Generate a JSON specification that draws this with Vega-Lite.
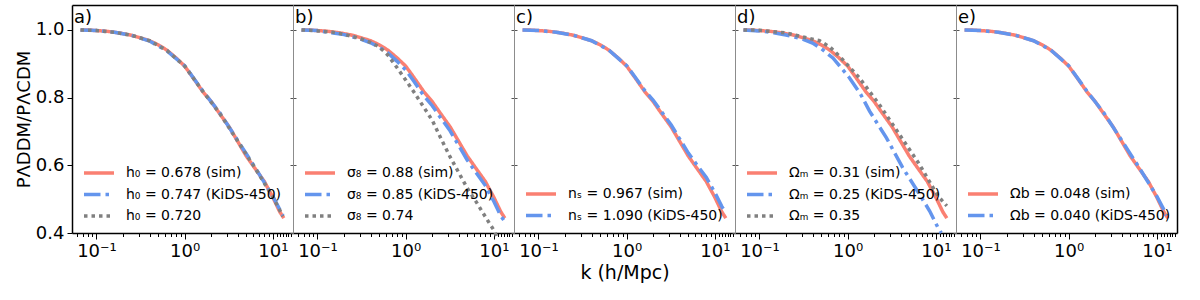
{
  "$schema": "https://vega.github.io/schema/vega-lite/v6.json",
  "background": "white",
  "padding": {"left": 15, "top": 5, "right": 5, "bottom": 5},
  "config": {
    "font": "DejaVu Sans",
    "view": {"stroke": null},
    "axis": {"grid": false, "labelColor": "black", "titleColor": "black", "tickColor": "black", "domainColor": "black", "labelFont": "DejaVu Sans", "titleFont": "DejaVu Sans", "titleFontWeight": "normal"},
    "legend": {"labelFont": "DejaVu Sans", "labelFontSize": 14, "labelColor": "black"},
    "title": {"font": "DejaVu Sans", "fontWeight": "normal", "fontSize": 18, "anchor": "start", "frame": "group", "offset": -22, "dx": 2, "color": "black"},
    "line": {"strokeWidth": 3.5, "clip": true}
  },
  "spacing": 0,
  "bounds": "flush",
  "resolve": {"scale": {"color": "independent", "strokeDash": "independent"}},
  "hconcat": [
    {
      "width": 221, "height": 228,
      "title": {"text": "a)"},
      "data": {"values": [
        {"s": "h₀ = 0.678 (sim)", "k": 0.066, "r": 1.0}, {"s": "h₀ = 0.678 (sim)", "k": 0.08, "r": 0.9995}, {"s": "h₀ = 0.678 (sim)", "k": 0.1, "r": 0.998}, {"s": "h₀ = 0.678 (sim)", "k": 0.13, "r": 0.996}, {"s": "h₀ = 0.678 (sim)", "k": 0.16, "r": 0.993}, {"s": "h₀ = 0.678 (sim)", "k": 0.2, "r": 0.989}, {"s": "h₀ = 0.678 (sim)", "k": 0.25, "r": 0.984}, {"s": "h₀ = 0.678 (sim)", "k": 0.3, "r": 0.978}, {"s": "h₀ = 0.678 (sim)", "k": 0.4, "r": 0.968}, {"s": "h₀ = 0.678 (sim)", "k": 0.5, "r": 0.956}, {"s": "h₀ = 0.678 (sim)", "k": 0.63, "r": 0.94}, {"s": "h₀ = 0.678 (sim)", "k": 0.8, "r": 0.917}, {"s": "h₀ = 0.678 (sim)", "k": 1.0, "r": 0.893}, {"s": "h₀ = 0.678 (sim)", "k": 1.25, "r": 0.858}, {"s": "h₀ = 0.678 (sim)", "k": 1.6, "r": 0.818}, {"s": "h₀ = 0.678 (sim)", "k": 2.0, "r": 0.788}, {"s": "h₀ = 0.678 (sim)", "k": 2.5, "r": 0.752}, {"s": "h₀ = 0.678 (sim)", "k": 3.2, "r": 0.713}, {"s": "h₀ = 0.678 (sim)", "k": 4.0, "r": 0.67}, {"s": "h₀ = 0.678 (sim)", "k": 5.0, "r": 0.627}, {"s": "h₀ = 0.678 (sim)", "k": 6.3, "r": 0.59}, {"s": "h₀ = 0.678 (sim)", "k": 8.0, "r": 0.552}, {"s": "h₀ = 0.678 (sim)", "k": 10.0, "r": 0.505}, {"s": "h₀ = 0.678 (sim)", "k": 12.0, "r": 0.462}, {"s": "h₀ = 0.678 (sim)", "k": 13.3, "r": 0.444},
        {"s": "h₀ = 0.747 (KiDS-450)", "k": 0.066, "r": 1.0}, {"s": "h₀ = 0.747 (KiDS-450)", "k": 0.1, "r": 0.998}, {"s": "h₀ = 0.747 (KiDS-450)", "k": 0.16, "r": 0.993}, {"s": "h₀ = 0.747 (KiDS-450)", "k": 0.25, "r": 0.984}, {"s": "h₀ = 0.747 (KiDS-450)", "k": 0.4, "r": 0.967}, {"s": "h₀ = 0.747 (KiDS-450)", "k": 0.63, "r": 0.938}, {"s": "h₀ = 0.747 (KiDS-450)", "k": 1.0, "r": 0.894}, {"s": "h₀ = 0.747 (KiDS-450)", "k": 1.6, "r": 0.82}, {"s": "h₀ = 0.747 (KiDS-450)", "k": 2.5, "r": 0.755}, {"s": "h₀ = 0.747 (KiDS-450)", "k": 4.0, "r": 0.673}, {"s": "h₀ = 0.747 (KiDS-450)", "k": 6.3, "r": 0.593}, {"s": "h₀ = 0.747 (KiDS-450)", "k": 10.0, "r": 0.508}, {"s": "h₀ = 0.747 (KiDS-450)", "k": 13.0, "r": 0.452},
        {"s": "h₀ = 0.720", "k": 0.066, "r": 1.0}, {"s": "h₀ = 0.720", "k": 0.1, "r": 0.998}, {"s": "h₀ = 0.720", "k": 0.16, "r": 0.993}, {"s": "h₀ = 0.720", "k": 0.25, "r": 0.984}, {"s": "h₀ = 0.720", "k": 0.4, "r": 0.968}, {"s": "h₀ = 0.720", "k": 0.63, "r": 0.939}, {"s": "h₀ = 0.720", "k": 1.0, "r": 0.893}, {"s": "h₀ = 0.720", "k": 1.6, "r": 0.819}, {"s": "h₀ = 0.720", "k": 2.5, "r": 0.753}, {"s": "h₀ = 0.720", "k": 4.0, "r": 0.671}, {"s": "h₀ = 0.720", "k": 6.3, "r": 0.591}, {"s": "h₀ = 0.720", "k": 10.0, "r": 0.506}, {"s": "h₀ = 0.720", "k": 13.0, "r": 0.449}
      ]},
      "layer": [
        {
          "mark": {"type": "line"},
          "encoding": {
            "x": {"field": "k", "type": "quantitative", "scale": {"type": "log", "domain": [0.0528, 16.9], "nice": false},
              "axis": {"orient": "bottom", "values": [0.06,0.07,0.08,0.09,0.1,0.2,0.3,0.4,0.5,0.6,0.7,0.8,0.9,1,2,3,4,5,6,7,8,9,10,11,12,13,14,15,16], "labelExpr": "datum.value == 0.1 ? '10⁻¹' : datum.value == 1 ? '10⁰' : datum.value == 10 ? '10¹' : ''", "tickSize": {"condition": {"test": "datum.value == 0.1 || datum.value == 1 || datum.value == 10", "value": 6}, "value": 3.5}, "labelOverlap": false, "labelBound": false, "labelFlush": false, "labelFontSize": 18, "labelPadding": 3, "domainWidth": 1.5, "title": null}},
            "y": {"field": "r", "type": "quantitative", "scale": {"domain": [0.4, 1.0735], "nice": false, "zero": false},
              "axis": {"values": [0.4,0.6,0.8,1.0], "format": ".1f", "tickSize": 5, "labelFontSize": 18, "labelPadding": 3, "domainWidth": 1.5, "title": "PΛDDM/PΛCDM", "titleFontSize": 18, "titlePadding": 2}},
            "color": {"field": "s", "type": "nominal", "scale": {"domain": ["h₀ = 0.678 (sim)", "h₀ = 0.747 (KiDS-450)", "h₀ = 0.720"], "range": ["#FA8072", "#6495ED", "#808080"]},
              "legend": {"title": null, "orient": "bottom-left", "offset": 10, "padding": 0, "symbolType": "M-1,0H2.75", "symbolSize": 256, "symbolStrokeWidth": 3.5, "labelOffset": 24, "rowPadding": 4.5, "labelLimit": 400}},
            "strokeDash": {"field": "s", "type": "nominal", "scale": {"domain": ["h₀ = 0.678 (sim)", "h₀ = 0.747 (KiDS-450)", "h₀ = 0.720"], "range": [[1,0],[16.5,5,3.5,5],[3.5,4]]},
              "legend": {"title": null, "orient": "bottom-left", "offset": 10, "padding": 0, "symbolType": "M-1,0H2.75", "symbolSize": 256, "symbolStrokeWidth": 3.5, "labelOffset": 24, "rowPadding": 4.5, "labelLimit": 400}}
          }
        },
        {
          "mark": {"type": "line", "opacity": 0},
          "encoding": {
            "x": {"field": "k", "type": "quantitative", "scale": {"type": "log", "domain": [0.0528, 16.9], "nice": false}, "axis": {"orient": "top", "ticks": false, "labels": false, "domainWidth": 1.5, "title": null}},
            "y": {"field": "r", "type": "quantitative", "scale": {"domain": [0.4, 1.0735], "nice": false, "zero": false}, "axis": {"orient": "right", "values": [0.4,0.6,0.8,1.0], "labels": false, "tickSize": 3, "tickColor": "#555555", "domainColor": "#8c8c8c", "title": null}}
          }
        }
      ],
      "resolve": {"axis": {"x": "independent", "y": "independent"}}
    },
    {
      "width": 221, "height": 228,
      "title": {"text": "b)"},
      "data": {"values": [
        {"s": "σ₈ = 0.88 (sim)", "k": 0.066, "r": 1.0}, {"s": "σ₈ = 0.88 (sim)", "k": 0.08, "r": 0.9995}, {"s": "σ₈ = 0.88 (sim)", "k": 0.1, "r": 0.998}, {"s": "σ₈ = 0.88 (sim)", "k": 0.13, "r": 0.996}, {"s": "σ₈ = 0.88 (sim)", "k": 0.16, "r": 0.993}, {"s": "σ₈ = 0.88 (sim)", "k": 0.2, "r": 0.989}, {"s": "σ₈ = 0.88 (sim)", "k": 0.25, "r": 0.984}, {"s": "σ₈ = 0.88 (sim)", "k": 0.3, "r": 0.978}, {"s": "σ₈ = 0.88 (sim)", "k": 0.4, "r": 0.968}, {"s": "σ₈ = 0.88 (sim)", "k": 0.5, "r": 0.956}, {"s": "σ₈ = 0.88 (sim)", "k": 0.63, "r": 0.94}, {"s": "σ₈ = 0.88 (sim)", "k": 0.8, "r": 0.917}, {"s": "σ₈ = 0.88 (sim)", "k": 1.0, "r": 0.893}, {"s": "σ₈ = 0.88 (sim)", "k": 1.25, "r": 0.858}, {"s": "σ₈ = 0.88 (sim)", "k": 1.6, "r": 0.818}, {"s": "σ₈ = 0.88 (sim)", "k": 2.0, "r": 0.788}, {"s": "σ₈ = 0.88 (sim)", "k": 2.5, "r": 0.752}, {"s": "σ₈ = 0.88 (sim)", "k": 3.2, "r": 0.713}, {"s": "σ₈ = 0.88 (sim)", "k": 4.0, "r": 0.67}, {"s": "σ₈ = 0.88 (sim)", "k": 5.0, "r": 0.627}, {"s": "σ₈ = 0.88 (sim)", "k": 6.3, "r": 0.59}, {"s": "σ₈ = 0.88 (sim)", "k": 8.0, "r": 0.552}, {"s": "σ₈ = 0.88 (sim)", "k": 10.0, "r": 0.505}, {"s": "σ₈ = 0.88 (sim)", "k": 12.0, "r": 0.462}, {"s": "σ₈ = 0.88 (sim)", "k": 13.3, "r": 0.444},
        {"s": "σ₈ = 0.85 (KiDS-450)", "k": 0.066, "r": 1.0}, {"s": "σ₈ = 0.85 (KiDS-450)", "k": 0.1, "r": 0.998}, {"s": "σ₈ = 0.85 (KiDS-450)", "k": 0.2, "r": 0.986}, {"s": "σ₈ = 0.85 (KiDS-450)", "k": 0.3, "r": 0.974}, {"s": "σ₈ = 0.85 (KiDS-450)", "k": 0.4, "r": 0.962}, {"s": "σ₈ = 0.85 (KiDS-450)", "k": 0.5, "r": 0.949}, {"s": "σ₈ = 0.85 (KiDS-450)", "k": 0.63, "r": 0.932}, {"s": "σ₈ = 0.85 (KiDS-450)", "k": 0.8, "r": 0.907}, {"s": "σ₈ = 0.85 (KiDS-450)", "k": 1.0, "r": 0.882}, {"s": "σ₈ = 0.85 (KiDS-450)", "k": 1.25, "r": 0.847}, {"s": "σ₈ = 0.85 (KiDS-450)", "k": 1.6, "r": 0.806}, {"s": "σ₈ = 0.85 (KiDS-450)", "k": 2.0, "r": 0.776}, {"s": "σ₈ = 0.85 (KiDS-450)", "k": 2.5, "r": 0.74}, {"s": "σ₈ = 0.85 (KiDS-450)", "k": 3.2, "r": 0.701}, {"s": "σ₈ = 0.85 (KiDS-450)", "k": 4.0, "r": 0.658}, {"s": "σ₈ = 0.85 (KiDS-450)", "k": 5.0, "r": 0.615}, {"s": "σ₈ = 0.85 (KiDS-450)", "k": 6.3, "r": 0.578}, {"s": "σ₈ = 0.85 (KiDS-450)", "k": 8.0, "r": 0.54}, {"s": "σ₈ = 0.85 (KiDS-450)", "k": 10.0, "r": 0.493}, {"s": "σ₈ = 0.85 (KiDS-450)", "k": 12.0, "r": 0.45}, {"s": "σ₈ = 0.85 (KiDS-450)", "k": 13.3, "r": 0.434},
        {"s": "σ₈ = 0.74", "k": 0.066, "r": 1.0}, {"s": "σ₈ = 0.74", "k": 0.1, "r": 0.997}, {"s": "σ₈ = 0.74", "k": 0.15, "r": 0.993}, {"s": "σ₈ = 0.74", "k": 0.2, "r": 0.987}, {"s": "σ₈ = 0.74", "k": 0.3, "r": 0.975}, {"s": "σ₈ = 0.74", "k": 0.4, "r": 0.963}, {"s": "σ₈ = 0.74", "k": 0.5, "r": 0.95}, {"s": "σ₈ = 0.74", "k": 0.63, "r": 0.925}, {"s": "σ₈ = 0.74", "k": 0.8, "r": 0.888}, {"s": "σ₈ = 0.74", "k": 1.0, "r": 0.852}, {"s": "σ₈ = 0.74", "k": 1.25, "r": 0.815}, {"s": "σ₈ = 0.74", "k": 1.6, "r": 0.772}, {"s": "σ₈ = 0.74", "k": 2.0, "r": 0.733}, {"s": "σ₈ = 0.74", "k": 2.5, "r": 0.68}, {"s": "σ₈ = 0.74", "k": 3.2, "r": 0.624}, {"s": "σ₈ = 0.74", "k": 4.0, "r": 0.578}, {"s": "σ₈ = 0.74", "k": 5.0, "r": 0.532}, {"s": "σ₈ = 0.74", "k": 6.3, "r": 0.492}, {"s": "σ₈ = 0.74", "k": 8.0, "r": 0.448}, {"s": "σ₈ = 0.74", "k": 10.0, "r": 0.408}, {"s": "σ₈ = 0.74", "k": 11.0, "r": 0.385}
      ]},
      "layer": [
        {
          "mark": {"type": "line"},
          "encoding": {
            "x": {"field": "k", "type": "quantitative", "scale": {"type": "log", "domain": [0.0528, 16.9], "nice": false},
              "axis": {"orient": "bottom", "values": [0.06,0.07,0.08,0.09,0.1,0.2,0.3,0.4,0.5,0.6,0.7,0.8,0.9,1,2,3,4,5,6,7,8,9,10,11,12,13,14,15,16], "labelExpr": "datum.value == 0.1 ? '10⁻¹' : datum.value == 1 ? '10⁰' : datum.value == 10 ? '10¹' : ''", "tickSize": {"condition": {"test": "datum.value == 0.1 || datum.value == 1 || datum.value == 10", "value": 6}, "value": 3.5}, "labelOverlap": false, "labelBound": false, "labelFlush": false, "labelFontSize": 18, "labelPadding": 3, "domainWidth": 1.5, "title": null}},
            "y": {"field": "r", "type": "quantitative", "scale": {"domain": [0.4, 1.0735], "nice": false, "zero": false},
              "axis": {"values": [0.4,0.6,0.8,1.0], "labels": false, "tickSize": 3, "tickColor": "#555555", "domainColor": "#8c8c8c", "title": null}},
            "color": {"field": "s", "type": "nominal", "scale": {"domain": ["σ₈ = 0.88 (sim)", "σ₈ = 0.85 (KiDS-450)", "σ₈ = 0.74"], "range": ["#FA8072", "#6495ED", "#808080"]},
              "legend": {"title": null, "orient": "bottom-left", "offset": 10, "padding": 0, "symbolType": "M-1,0H2.75", "symbolSize": 256, "symbolStrokeWidth": 3.5, "labelOffset": 24, "rowPadding": 4.5, "labelLimit": 400}},
            "strokeDash": {"field": "s", "type": "nominal", "scale": {"domain": ["σ₈ = 0.88 (sim)", "σ₈ = 0.85 (KiDS-450)", "σ₈ = 0.74"], "range": [[1,0],[16.5,5,3.5,5],[3.5,4]]},
              "legend": {"title": null, "orient": "bottom-left", "offset": 10, "padding": 0, "symbolType": "M-1,0H2.75", "symbolSize": 256, "symbolStrokeWidth": 3.5, "labelOffset": 24, "rowPadding": 4.5, "labelLimit": 400}}
          }
        },
        {
          "mark": {"type": "line", "opacity": 0},
          "encoding": {
            "x": {"field": "k", "type": "quantitative", "scale": {"type": "log", "domain": [0.0528, 16.9], "nice": false}, "axis": {"orient": "top", "ticks": false, "labels": false, "domainWidth": 1.5, "title": null}},
            "y": {"field": "r", "type": "quantitative", "scale": {"domain": [0.4, 1.0735], "nice": false, "zero": false}, "axis": {"orient": "right", "values": [0.4,0.6,0.8,1.0], "labels": false, "tickSize": 3, "tickColor": "#555555", "domainColor": "#8c8c8c", "title": null}}
          }
        }
      ],
      "resolve": {"axis": {"x": "independent", "y": "independent"}}
    },
    {
      "width": 221, "height": 228,
      "title": {"text": "c)"},
      "data": {"values": [
        {"s": "nₛ = 0.967 (sim)", "k": 0.066, "r": 1.0}, {"s": "nₛ = 0.967 (sim)", "k": 0.08, "r": 0.9995}, {"s": "nₛ = 0.967 (sim)", "k": 0.1, "r": 0.998}, {"s": "nₛ = 0.967 (sim)", "k": 0.13, "r": 0.996}, {"s": "nₛ = 0.967 (sim)", "k": 0.16, "r": 0.993}, {"s": "nₛ = 0.967 (sim)", "k": 0.2, "r": 0.989}, {"s": "nₛ = 0.967 (sim)", "k": 0.25, "r": 0.984}, {"s": "nₛ = 0.967 (sim)", "k": 0.3, "r": 0.978}, {"s": "nₛ = 0.967 (sim)", "k": 0.4, "r": 0.968}, {"s": "nₛ = 0.967 (sim)", "k": 0.5, "r": 0.956}, {"s": "nₛ = 0.967 (sim)", "k": 0.63, "r": 0.94}, {"s": "nₛ = 0.967 (sim)", "k": 0.8, "r": 0.917}, {"s": "nₛ = 0.967 (sim)", "k": 1.0, "r": 0.893}, {"s": "nₛ = 0.967 (sim)", "k": 1.25, "r": 0.858}, {"s": "nₛ = 0.967 (sim)", "k": 1.6, "r": 0.818}, {"s": "nₛ = 0.967 (sim)", "k": 2.0, "r": 0.788}, {"s": "nₛ = 0.967 (sim)", "k": 2.5, "r": 0.752}, {"s": "nₛ = 0.967 (sim)", "k": 3.2, "r": 0.713}, {"s": "nₛ = 0.967 (sim)", "k": 4.0, "r": 0.67}, {"s": "nₛ = 0.967 (sim)", "k": 5.0, "r": 0.627}, {"s": "nₛ = 0.967 (sim)", "k": 6.3, "r": 0.59}, {"s": "nₛ = 0.967 (sim)", "k": 8.0, "r": 0.552}, {"s": "nₛ = 0.967 (sim)", "k": 10.0, "r": 0.505}, {"s": "nₛ = 0.967 (sim)", "k": 12.0, "r": 0.462}, {"s": "nₛ = 0.967 (sim)", "k": 13.3, "r": 0.444},
        {"s": "nₛ = 1.090 (KiDS-450)", "k": 0.066, "r": 1.0}, {"s": "nₛ = 1.090 (KiDS-450)", "k": 0.1, "r": 0.998}, {"s": "nₛ = 1.090 (KiDS-450)", "k": 0.16, "r": 0.993}, {"s": "nₛ = 1.090 (KiDS-450)", "k": 0.25, "r": 0.984}, {"s": "nₛ = 1.090 (KiDS-450)", "k": 0.4, "r": 0.968}, {"s": "nₛ = 1.090 (KiDS-450)", "k": 0.63, "r": 0.94}, {"s": "nₛ = 1.090 (KiDS-450)", "k": 1.0, "r": 0.894}, {"s": "nₛ = 1.090 (KiDS-450)", "k": 1.25, "r": 0.86}, {"s": "nₛ = 1.090 (KiDS-450)", "k": 1.6, "r": 0.821}, {"s": "nₛ = 1.090 (KiDS-450)", "k": 2.0, "r": 0.792}, {"s": "nₛ = 1.090 (KiDS-450)", "k": 2.5, "r": 0.757}, {"s": "nₛ = 1.090 (KiDS-450)", "k": 3.2, "r": 0.719}, {"s": "nₛ = 1.090 (KiDS-450)", "k": 4.0, "r": 0.677}, {"s": "nₛ = 1.090 (KiDS-450)", "k": 5.0, "r": 0.636}, {"s": "nₛ = 1.090 (KiDS-450)", "k": 6.3, "r": 0.6}, {"s": "nₛ = 1.090 (KiDS-450)", "k": 8.0, "r": 0.564}, {"s": "nₛ = 1.090 (KiDS-450)", "k": 10.0, "r": 0.519}, {"s": "nₛ = 1.090 (KiDS-450)", "k": 12.0, "r": 0.478}, {"s": "nₛ = 1.090 (KiDS-450)", "k": 13.0, "r": 0.463}
      ]},
      "layer": [
        {
          "mark": {"type": "line"},
          "encoding": {
            "x": {"field": "k", "type": "quantitative", "scale": {"type": "log", "domain": [0.0528, 16.9], "nice": false},
              "axis": {"orient": "bottom", "values": [0.06,0.07,0.08,0.09,0.1,0.2,0.3,0.4,0.5,0.6,0.7,0.8,0.9,1,2,3,4,5,6,7,8,9,10,11,12,13,14,15,16], "labelExpr": "datum.value == 0.1 ? '10⁻¹' : datum.value == 1 ? '10⁰' : datum.value == 10 ? '10¹' : ''", "tickSize": {"condition": {"test": "datum.value == 0.1 || datum.value == 1 || datum.value == 10", "value": 6}, "value": 3.5}, "labelOverlap": false, "labelBound": false, "labelFlush": false, "labelFontSize": 18, "labelPadding": 3, "domainWidth": 1.5, "title": "k (h/Mpc)", "titleFontSize": 19, "titlePadding": 3}},
            "y": {"field": "r", "type": "quantitative", "scale": {"domain": [0.4, 1.0735], "nice": false, "zero": false},
              "axis": {"values": [0.4,0.6,0.8,1.0], "labels": false, "tickSize": 3, "tickColor": "#555555", "domainColor": "#8c8c8c", "title": null}},
            "color": {"field": "s", "type": "nominal", "scale": {"domain": ["nₛ = 0.967 (sim)", "nₛ = 1.090 (KiDS-450)"], "range": ["#FA8072", "#6495ED"]},
              "legend": {"title": null, "orient": "bottom-left", "offset": 10, "padding": 0, "symbolType": "M-1,0H2.75", "symbolSize": 256, "symbolStrokeWidth": 3.5, "labelOffset": 24, "rowPadding": 4.5, "labelLimit": 400}},
            "strokeDash": {"field": "s", "type": "nominal", "scale": {"domain": ["nₛ = 0.967 (sim)", "nₛ = 1.090 (KiDS-450)"], "range": [[1,0],[16.5,5,3.5,5]]},
              "legend": {"title": null, "orient": "bottom-left", "offset": 10, "padding": 0, "symbolType": "M-1,0H2.75", "symbolSize": 256, "symbolStrokeWidth": 3.5, "labelOffset": 24, "rowPadding": 4.5, "labelLimit": 400}}
          }
        },
        {
          "mark": {"type": "line", "opacity": 0},
          "encoding": {
            "x": {"field": "k", "type": "quantitative", "scale": {"type": "log", "domain": [0.0528, 16.9], "nice": false}, "axis": {"orient": "top", "ticks": false, "labels": false, "domainWidth": 1.5, "title": null}},
            "y": {"field": "r", "type": "quantitative", "scale": {"domain": [0.4, 1.0735], "nice": false, "zero": false}, "axis": {"orient": "right", "values": [0.4,0.6,0.8,1.0], "labels": false, "tickSize": 3, "tickColor": "#555555", "domainColor": "#8c8c8c", "title": null}}
          }
        }
      ],
      "resolve": {"axis": {"x": "independent", "y": "independent"}}
    },
    {
      "width": 221, "height": 228,
      "title": {"text": "d)"},
      "data": {"values": [
        {"s": "Ωₘ = 0.31 (sim)", "k": 0.066, "r": 1.0}, {"s": "Ωₘ = 0.31 (sim)", "k": 0.08, "r": 0.9995}, {"s": "Ωₘ = 0.31 (sim)", "k": 0.1, "r": 0.998}, {"s": "Ωₘ = 0.31 (sim)", "k": 0.13, "r": 0.996}, {"s": "Ωₘ = 0.31 (sim)", "k": 0.16, "r": 0.993}, {"s": "Ωₘ = 0.31 (sim)", "k": 0.2, "r": 0.989}, {"s": "Ωₘ = 0.31 (sim)", "k": 0.25, "r": 0.984}, {"s": "Ωₘ = 0.31 (sim)", "k": 0.3, "r": 0.978}, {"s": "Ωₘ = 0.31 (sim)", "k": 0.4, "r": 0.968}, {"s": "Ωₘ = 0.31 (sim)", "k": 0.5, "r": 0.956}, {"s": "Ωₘ = 0.31 (sim)", "k": 0.63, "r": 0.94}, {"s": "Ωₘ = 0.31 (sim)", "k": 0.8, "r": 0.917}, {"s": "Ωₘ = 0.31 (sim)", "k": 1.0, "r": 0.893}, {"s": "Ωₘ = 0.31 (sim)", "k": 1.25, "r": 0.858}, {"s": "Ωₘ = 0.31 (sim)", "k": 1.6, "r": 0.818}, {"s": "Ωₘ = 0.31 (sim)", "k": 2.0, "r": 0.788}, {"s": "Ωₘ = 0.31 (sim)", "k": 2.5, "r": 0.752}, {"s": "Ωₘ = 0.31 (sim)", "k": 3.2, "r": 0.713}, {"s": "Ωₘ = 0.31 (sim)", "k": 4.0, "r": 0.67}, {"s": "Ωₘ = 0.31 (sim)", "k": 5.0, "r": 0.627}, {"s": "Ωₘ = 0.31 (sim)", "k": 6.3, "r": 0.59}, {"s": "Ωₘ = 0.31 (sim)", "k": 8.0, "r": 0.552}, {"s": "Ωₘ = 0.31 (sim)", "k": 10.0, "r": 0.505}, {"s": "Ωₘ = 0.31 (sim)", "k": 12.0, "r": 0.462}, {"s": "Ωₘ = 0.31 (sim)", "k": 13.3, "r": 0.444},
        {"s": "Ωₘ = 0.25 (KiDS-450)", "k": 0.066, "r": 1.0}, {"s": "Ωₘ = 0.25 (KiDS-450)", "k": 0.1, "r": 0.997}, {"s": "Ωₘ = 0.25 (KiDS-450)", "k": 0.15, "r": 0.991}, {"s": "Ωₘ = 0.25 (KiDS-450)", "k": 0.2, "r": 0.985}, {"s": "Ωₘ = 0.25 (KiDS-450)", "k": 0.3, "r": 0.974}, {"s": "Ωₘ = 0.25 (KiDS-450)", "k": 0.4, "r": 0.961}, {"s": "Ωₘ = 0.25 (KiDS-450)", "k": 0.5, "r": 0.945}, {"s": "Ωₘ = 0.25 (KiDS-450)", "k": 0.68, "r": 0.917}, {"s": "Ωₘ = 0.25 (KiDS-450)", "k": 0.8, "r": 0.895}, {"s": "Ωₘ = 0.25 (KiDS-450)", "k": 1.05, "r": 0.858}, {"s": "Ωₘ = 0.25 (KiDS-450)", "k": 1.4, "r": 0.81}, {"s": "Ωₘ = 0.25 (KiDS-450)", "k": 1.77, "r": 0.76}, {"s": "Ωₘ = 0.25 (KiDS-450)", "k": 2.75, "r": 0.681}, {"s": "Ωₘ = 0.25 (KiDS-450)", "k": 4.2, "r": 0.593}, {"s": "Ωₘ = 0.25 (KiDS-450)", "k": 6.5, "r": 0.515}, {"s": "Ωₘ = 0.25 (KiDS-450)", "k": 8.5, "r": 0.465}, {"s": "Ωₘ = 0.25 (KiDS-450)", "k": 10.5, "r": 0.417}, {"s": "Ωₘ = 0.25 (KiDS-450)", "k": 11.5, "r": 0.4},
        {"s": "Ωₘ = 0.35", "k": 0.066, "r": 1.0}, {"s": "Ωₘ = 0.35", "k": 0.1, "r": 0.999}, {"s": "Ωₘ = 0.35", "k": 0.2, "r": 0.991}, {"s": "Ωₘ = 0.35", "k": 0.3, "r": 0.98}, {"s": "Ωₘ = 0.35", "k": 0.48, "r": 0.968}, {"s": "Ωₘ = 0.35", "k": 0.63, "r": 0.949}, {"s": "Ωₘ = 0.35", "k": 0.81, "r": 0.922}, {"s": "Ωₘ = 0.35", "k": 1.36, "r": 0.858}, {"s": "Ωₘ = 0.35", "k": 2.29, "r": 0.779}, {"s": "Ωₘ = 0.35", "k": 3.86, "r": 0.691}, {"s": "Ωₘ = 0.35", "k": 6.5, "r": 0.603}, {"s": "Ωₘ = 0.35", "k": 10.5, "r": 0.51}, {"s": "Ωₘ = 0.35", "k": 13.3, "r": 0.48}
      ]},
      "layer": [
        {
          "mark": {"type": "line"},
          "encoding": {
            "x": {"field": "k", "type": "quantitative", "scale": {"type": "log", "domain": [0.0528, 16.9], "nice": false},
              "axis": {"orient": "bottom", "values": [0.06,0.07,0.08,0.09,0.1,0.2,0.3,0.4,0.5,0.6,0.7,0.8,0.9,1,2,3,4,5,6,7,8,9,10,11,12,13,14,15,16], "labelExpr": "datum.value == 0.1 ? '10⁻¹' : datum.value == 1 ? '10⁰' : datum.value == 10 ? '10¹' : ''", "tickSize": {"condition": {"test": "datum.value == 0.1 || datum.value == 1 || datum.value == 10", "value": 6}, "value": 3.5}, "labelOverlap": false, "labelBound": false, "labelFlush": false, "labelFontSize": 18, "labelPadding": 3, "domainWidth": 1.5, "title": null}},
            "y": {"field": "r", "type": "quantitative", "scale": {"domain": [0.4, 1.0735], "nice": false, "zero": false},
              "axis": {"values": [0.4,0.6,0.8,1.0], "labels": false, "tickSize": 3, "tickColor": "#555555", "domainColor": "#8c8c8c", "title": null}},
            "color": {"field": "s", "type": "nominal", "scale": {"domain": ["Ωₘ = 0.31 (sim)", "Ωₘ = 0.25 (KiDS-450)", "Ωₘ = 0.35"], "range": ["#FA8072", "#6495ED", "#808080"]},
              "legend": {"title": null, "orient": "bottom-left", "offset": 10, "padding": 0, "symbolType": "M-1,0H2.75", "symbolSize": 256, "symbolStrokeWidth": 3.5, "labelOffset": 24, "rowPadding": 4.5, "labelLimit": 400}},
            "strokeDash": {"field": "s", "type": "nominal", "scale": {"domain": ["Ωₘ = 0.31 (sim)", "Ωₘ = 0.25 (KiDS-450)", "Ωₘ = 0.35"], "range": [[1,0],[16.5,5,3.5,5],[3.5,4]]},
              "legend": {"title": null, "orient": "bottom-left", "offset": 10, "padding": 0, "symbolType": "M-1,0H2.75", "symbolSize": 256, "symbolStrokeWidth": 3.5, "labelOffset": 24, "rowPadding": 4.5, "labelLimit": 400}}
          }
        },
        {
          "mark": {"type": "line", "opacity": 0},
          "encoding": {
            "x": {"field": "k", "type": "quantitative", "scale": {"type": "log", "domain": [0.0528, 16.9], "nice": false}, "axis": {"orient": "top", "ticks": false, "labels": false, "domainWidth": 1.5, "title": null}},
            "y": {"field": "r", "type": "quantitative", "scale": {"domain": [0.4, 1.0735], "nice": false, "zero": false}, "axis": {"orient": "right", "values": [0.4,0.6,0.8,1.0], "labels": false, "tickSize": 3, "tickColor": "#555555", "domainColor": "#8c8c8c", "title": null}}
          }
        }
      ],
      "resolve": {"axis": {"x": "independent", "y": "independent"}}
    },
    {
      "width": 221, "height": 228,
      "title": {"text": "e)"},
      "data": {"values": [
        {"s": "Ωb = 0.048 (sim)", "k": 0.066, "r": 1.0}, {"s": "Ωb = 0.048 (sim)", "k": 0.08, "r": 0.9995}, {"s": "Ωb = 0.048 (sim)", "k": 0.1, "r": 0.998}, {"s": "Ωb = 0.048 (sim)", "k": 0.13, "r": 0.996}, {"s": "Ωb = 0.048 (sim)", "k": 0.16, "r": 0.993}, {"s": "Ωb = 0.048 (sim)", "k": 0.2, "r": 0.989}, {"s": "Ωb = 0.048 (sim)", "k": 0.25, "r": 0.984}, {"s": "Ωb = 0.048 (sim)", "k": 0.3, "r": 0.978}, {"s": "Ωb = 0.048 (sim)", "k": 0.4, "r": 0.968}, {"s": "Ωb = 0.048 (sim)", "k": 0.5, "r": 0.956}, {"s": "Ωb = 0.048 (sim)", "k": 0.63, "r": 0.94}, {"s": "Ωb = 0.048 (sim)", "k": 0.8, "r": 0.917}, {"s": "Ωb = 0.048 (sim)", "k": 1.0, "r": 0.893}, {"s": "Ωb = 0.048 (sim)", "k": 1.25, "r": 0.858}, {"s": "Ωb = 0.048 (sim)", "k": 1.6, "r": 0.818}, {"s": "Ωb = 0.048 (sim)", "k": 2.0, "r": 0.788}, {"s": "Ωb = 0.048 (sim)", "k": 2.5, "r": 0.752}, {"s": "Ωb = 0.048 (sim)", "k": 3.2, "r": 0.713}, {"s": "Ωb = 0.048 (sim)", "k": 4.0, "r": 0.67}, {"s": "Ωb = 0.048 (sim)", "k": 5.0, "r": 0.627}, {"s": "Ωb = 0.048 (sim)", "k": 6.3, "r": 0.59}, {"s": "Ωb = 0.048 (sim)", "k": 8.0, "r": 0.552}, {"s": "Ωb = 0.048 (sim)", "k": 10.0, "r": 0.505}, {"s": "Ωb = 0.048 (sim)", "k": 12.0, "r": 0.462}, {"s": "Ωb = 0.048 (sim)", "k": 13.3, "r": 0.444},
        {"s": "Ωb = 0.040 (KiDS-450)", "k": 0.066, "r": 1.0}, {"s": "Ωb = 0.040 (KiDS-450)", "k": 0.1, "r": 0.998}, {"s": "Ωb = 0.040 (KiDS-450)", "k": 0.16, "r": 0.993}, {"s": "Ωb = 0.040 (KiDS-450)", "k": 0.25, "r": 0.984}, {"s": "Ωb = 0.040 (KiDS-450)", "k": 0.4, "r": 0.968}, {"s": "Ωb = 0.040 (KiDS-450)", "k": 0.63, "r": 0.94}, {"s": "Ωb = 0.040 (KiDS-450)", "k": 1.0, "r": 0.894}, {"s": "Ωb = 0.040 (KiDS-450)", "k": 1.6, "r": 0.82}, {"s": "Ωb = 0.040 (KiDS-450)", "k": 2.5, "r": 0.755}, {"s": "Ωb = 0.040 (KiDS-450)", "k": 4.0, "r": 0.673}, {"s": "Ωb = 0.040 (KiDS-450)", "k": 6.3, "r": 0.593}, {"s": "Ωb = 0.040 (KiDS-450)", "k": 10.0, "r": 0.508}, {"s": "Ωb = 0.040 (KiDS-450)", "k": 13.0, "r": 0.452}
      ]},
      "layer": [
        {
          "mark": {"type": "line"},
          "encoding": {
            "x": {"field": "k", "type": "quantitative", "scale": {"type": "log", "domain": [0.0528, 16.9], "nice": false},
              "axis": {"orient": "bottom", "values": [0.06,0.07,0.08,0.09,0.1,0.2,0.3,0.4,0.5,0.6,0.7,0.8,0.9,1,2,3,4,5,6,7,8,9,10,11,12,13,14,15,16], "labelExpr": "datum.value == 0.1 ? '10⁻¹' : datum.value == 1 ? '10⁰' : datum.value == 10 ? '10¹' : ''", "tickSize": {"condition": {"test": "datum.value == 0.1 || datum.value == 1 || datum.value == 10", "value": 6}, "value": 3.5}, "labelOverlap": false, "labelBound": false, "labelFlush": false, "labelFontSize": 18, "labelPadding": 3, "domainWidth": 1.5, "title": null}},
            "y": {"field": "r", "type": "quantitative", "scale": {"domain": [0.4, 1.0735], "nice": false, "zero": false},
              "axis": {"values": [0.4,0.6,0.8,1.0], "labels": false, "tickSize": 3, "tickColor": "#555555", "domainColor": "#8c8c8c", "title": null}},
            "color": {"field": "s", "type": "nominal", "scale": {"domain": ["Ωb = 0.048 (sim)", "Ωb = 0.040 (KiDS-450)"], "range": ["#FA8072", "#6495ED"]},
              "legend": {"title": null, "orient": "bottom-left", "offset": 10, "padding": 0, "symbolType": "M-1,0H2.75", "symbolSize": 256, "symbolStrokeWidth": 3.5, "labelOffset": 24, "rowPadding": 4.5, "labelLimit": 400}},
            "strokeDash": {"field": "s", "type": "nominal", "scale": {"domain": ["Ωb = 0.048 (sim)", "Ωb = 0.040 (KiDS-450)"], "range": [[1,0],[16.5,5,3.5,5]]},
              "legend": {"title": null, "orient": "bottom-left", "offset": 10, "padding": 0, "symbolType": "M-1,0H2.75", "symbolSize": 256, "symbolStrokeWidth": 3.5, "labelOffset": 24, "rowPadding": 4.5, "labelLimit": 400}}
          }
        },
        {
          "mark": {"type": "line", "opacity": 0},
          "encoding": {
            "x": {"field": "k", "type": "quantitative", "scale": {"type": "log", "domain": [0.0528, 16.9], "nice": false}, "axis": {"orient": "top", "ticks": false, "labels": false, "domainWidth": 1.5, "title": null}},
            "y": {"field": "r", "type": "quantitative", "scale": {"domain": [0.4, 1.0735], "nice": false, "zero": false}, "axis": {"orient": "right", "ticks": false, "labels": false, "domainWidth": 1.5, "title": null}}
          }
        }
      ],
      "resolve": {"axis": {"x": "independent", "y": "independent"}}
    }
  ]
}
